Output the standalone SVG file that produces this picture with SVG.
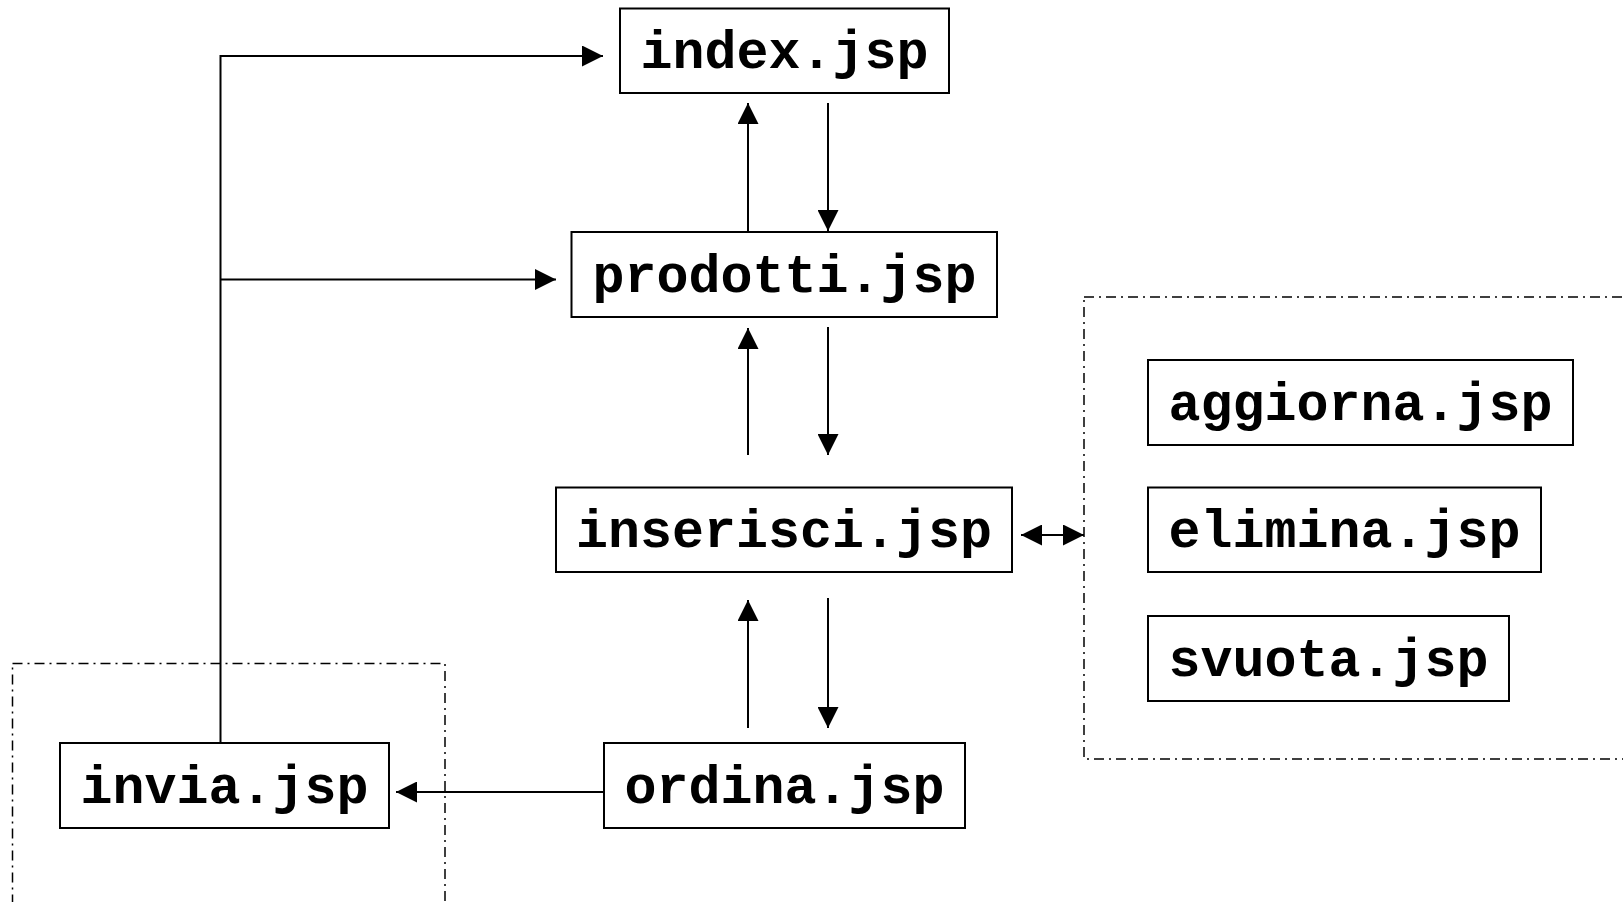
<svg xmlns="http://www.w3.org/2000/svg" width="1623" height="902" viewBox="0 0 1623 902">
<style>
.box{fill:#fff;stroke:#000;stroke-width:2}
.lbl{font-family:"Liberation Mono","Courier New",monospace;font-weight:bold;font-size:53.3px;text-anchor:middle;fill:#000}
.ln{stroke:#000;stroke-width:2;fill:none}
.grp{fill:none;stroke:#000;stroke-width:1.5;stroke-dasharray:10 5 2 5}
</style>
<defs>
<marker id="ah" markerUnits="userSpaceOnUse" markerWidth="21" markerHeight="21" refX="20" refY="10" orient="auto-start-reverse" viewBox="0 0 20 20">
<path d="M0,0 L20,10 L0,20 z" fill="#000"/>
</marker>
</defs>
<rect width="1623" height="902" fill="#fff"/>
<g id="groups">
<rect class="grp" x="1084" y="297" width="560" height="462"/>
<rect class="grp" x="12.5" y="663.5" width="432.5" height="260"/>
</g>
<g id="connectors">
<polyline class="ln" points="220.5,743 220.5,56 603,56" marker-end="url(#ah)"/>
<line class="ln" x1="220.5" y1="279.5" x2="556" y2="279.5" marker-end="url(#ah)"/>
<line class="ln" x1="748" y1="232" x2="748" y2="103" marker-end="url(#ah)"/>
<line class="ln" x1="828" y1="103" x2="828" y2="231" marker-end="url(#ah)"/>
<line class="ln" x1="748" y1="455" x2="748" y2="328" marker-end="url(#ah)"/>
<line class="ln" x1="828" y1="327" x2="828" y2="455" marker-end="url(#ah)"/>
<line class="ln" x1="748" y1="728" x2="748" y2="600" marker-end="url(#ah)"/>
<line class="ln" x1="828" y1="598" x2="828" y2="728" marker-end="url(#ah)"/>
<line class="ln" x1="603" y1="792" x2="396" y2="792" marker-end="url(#ah)"/>
<line class="ln" x1="1021" y1="535" x2="1084" y2="535" marker-start="url(#ah)" marker-end="url(#ah)"/>
</g>
<g id="index"><rect class="box" x="620" y="8.5" width="329" height="84.5"/><text class="lbl" x="784.5" y="68">index.jsp</text></g>
<g id="prodotti"><rect class="box" x="571.5" y="232" width="425.5" height="85"/><text class="lbl" x="784.5" y="292">prodotti.jsp</text></g>
<g id="inserisci"><rect class="box" x="556" y="487.5" width="456" height="84.5"/><text class="lbl" x="784" y="547">inserisci.jsp</text></g>
<g id="ordina"><rect class="box" x="604" y="743" width="361" height="85"/><text class="lbl" x="784.5" y="803">ordina.jsp</text></g>
<g id="invia"><rect class="box" x="60" y="743" width="329" height="85"/><text class="lbl" x="224.5" y="803">invia.jsp</text></g>
<g id="aggiorna"><rect class="box" x="1148" y="360" width="425" height="85"/><text class="lbl" x="1360.5" y="420">aggiorna.jsp</text></g>
<g id="elimina"><rect class="box" x="1148" y="487.5" width="393" height="84.5"/><text class="lbl" x="1344.5" y="547">elimina.jsp</text></g>
<g id="svuota"><rect class="box" x="1148" y="616" width="361" height="85"/><text class="lbl" x="1328.5" y="676">svuota.jsp</text></g>
</svg>
